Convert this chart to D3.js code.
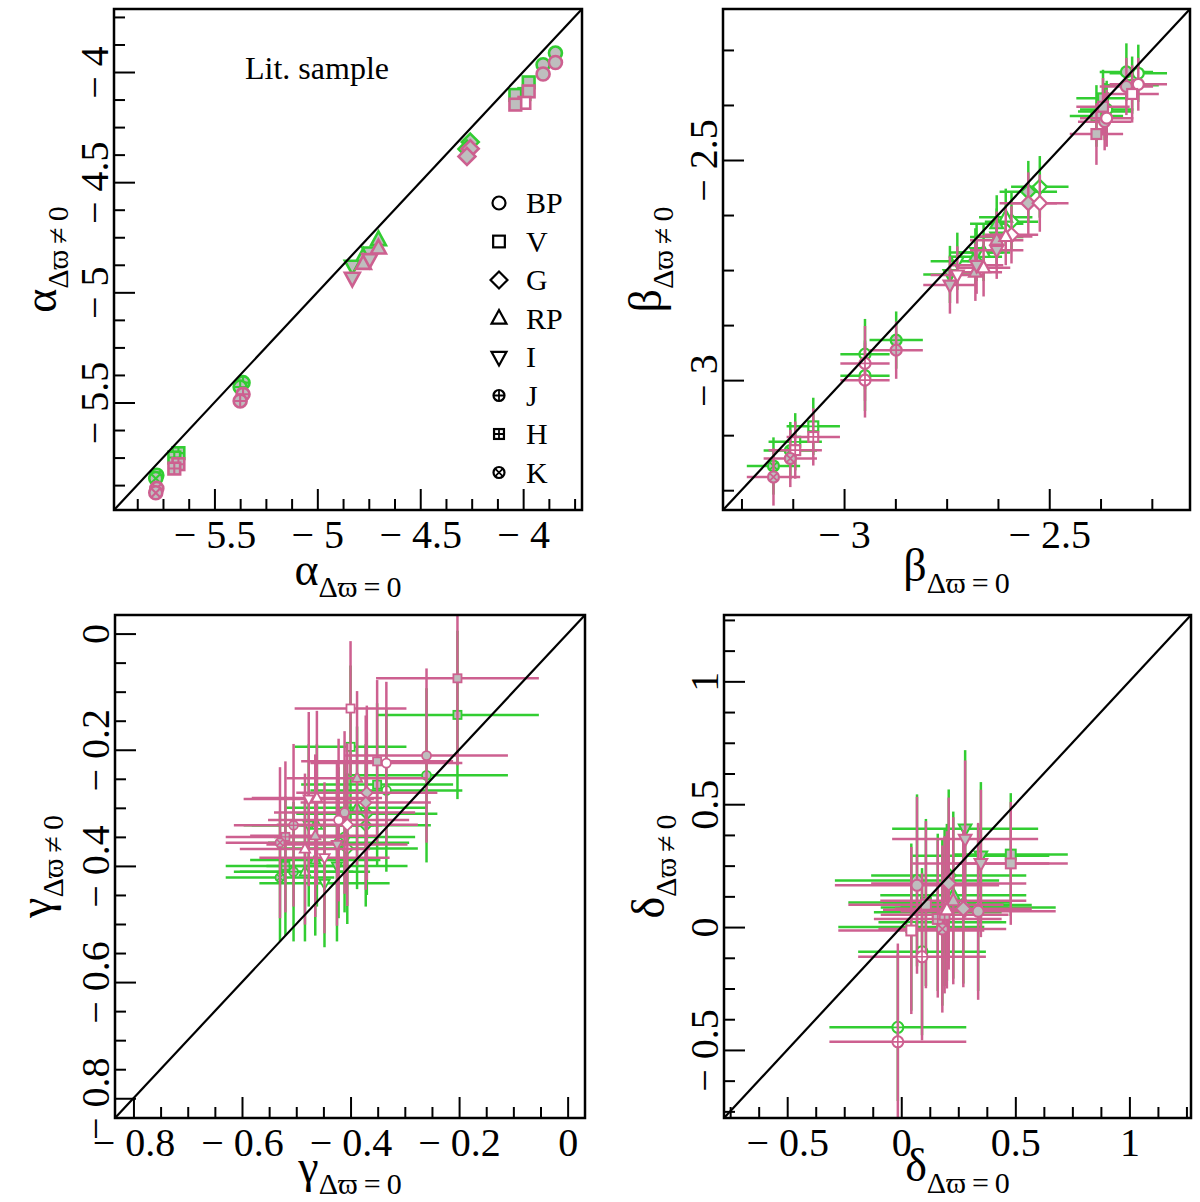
<!DOCTYPE html>
<html><head><meta charset="utf-8">
<script src="https://cdn.jsdelivr.net/npm/d3@7"></script>
<style>body{margin:0;background:#fff}svg{display:block}</style>
</head><body>
<svg id="chart" width="1200" height="1202"></svg>
<script>
// ---------------- DATA ----------------
const bands = ["BP","V","G","RP","I","J","H","K"];
const seriesColors = {green:"#32CD32", pink:"#CD6090"};
const fillColors = {g:"#BEBEBE", w:"#FFFFFF"};
// rows: [band, fill, x, xErr, yGreen, yErrGreen, yPink, yErrPink]
const alphaDomain = [-5.988,-3.714];
const alphaTicks = [-5.5,-5,-4.5,-4];
const alphaMinorStep = 0.125;
const alphaPts = [
 ["BP","g",-3.843,0.008,-3.914,0.008,-3.957,0.008],
 ["BP","g",-3.903,0.008,-3.967,0.008,-4.009,0.008],
 ["V","g",-3.973,0.008,-4.047,0.008,-4.088,0.008],
 ["V","w",-3.994,0.008,-4.100,0.008,-4.140,0.008],
 ["V","g",-4.038,0.008,-4.104,0.008,-4.148,0.008],
 ["G","g",-4.257,0.008,-4.318,0.008,-4.348,0.008],
 ["G","g",-4.273,0.008,-4.350,0.008,-4.383,0.008],
 ["RP","g",-4.703,0.008,-4.762,0.008,-4.800,0.008],
 ["RP","g",-4.776,0.008,-4.838,0.008,-4.870,0.008],
 ["I","g",-4.745,0.008,-4.820,0.008,-4.850,0.008],
 ["I","g",-4.830,0.008,-4.880,0.008,-4.935,0.008],
 ["J","g",-5.361,0.008,-5.410,0.008,-5.463,0.008],
 ["J","g",-5.375,0.008,-5.430,0.008,-5.493,0.008],
 ["H","g",-5.675,0.008,-5.730,0.008,-5.780,0.008],
 ["H","g",-5.695,0.008,-5.750,0.008,-5.800,0.008],
 ["K","g",-5.780,0.008,-5.830,0.008,-5.890,0.008],
 ["K","g",-5.785,0.008,-5.845,0.008,-5.910,0.008]
];
const betaDomain = [-3.295,-2.157];
const betaTicks = [-3,-2.5];
const betaMinorStep = 0.125;
const betaPts = [
 ["BP","g",-2.312,0.065,-2.300,0.065,-2.333,0.065],
 ["BP","w",-2.283,0.070,-2.303,0.065,-2.328,0.060],
 ["BP","g",-2.365,0.065,-2.390,0.065,-2.413,0.065],
 ["BP","w",-2.360,0.065,-2.385,0.065,-2.405,0.065],
 ["V","g",-2.369,0.065,-2.360,0.065,-2.379,0.065],
 ["V","g",-2.385,0.065,-2.400,0.070,-2.441,0.070],
 ["V","w",-2.298,0.065,-2.330,0.065,-2.350,0.065],
 ["G","g",-2.551,0.070,-2.572,0.070,-2.598,0.070],
 ["G","w",-2.523,0.070,-2.561,0.070,-2.598,0.065],
 ["G","w",-2.592,0.065,-2.640,0.065,-2.670,0.065],
 ["RP","g",-2.628,0.065,-2.645,0.065,-2.682,0.065],
 ["RP","w",-2.606,0.065,-2.630,0.065,-2.674,0.065],
 ["RP","g",-2.680,0.065,-2.720,0.065,-2.755,0.065],
 ["RP","w",-2.660,0.065,-2.710,0.065,-2.745,0.065],
 ["I","g",-2.628,0.065,-2.675,0.065,-2.705,0.065],
 ["I","g",-2.677,0.065,-2.710,0.065,-2.739,0.065],
 ["I","g",-2.742,0.065,-2.760,0.065,-2.784,0.065],
 ["I","w",-2.724,0.065,-2.730,0.065,-2.761,0.065],
 ["J","w",-2.949,0.060,-2.941,0.080,-2.962,0.085],
 ["J","w",-2.949,0.060,-2.990,0.080,-3.000,0.085],
 ["J","g",-2.873,0.065,-2.909,0.065,-2.932,0.065],
 ["H","w",-3.075,0.065,-3.105,0.065,-3.129,0.065],
 ["H","w",-3.119,0.065,-3.140,0.065,-3.159,0.065],
 ["K","g",-3.172,0.065,-3.195,0.065,-3.220,0.065],
 ["K","g",-3.131,0.065,-3.160,0.065,-3.178,0.065]
];
const gammaDomain = [-0.834,0.032];
const gammaTicks = [-0.8,-0.6,-0.4,-0.2,0];
const gammaMinorStep = 0.05;
const gammaPts = [
 ["BP","g",-0.260,0.150,-0.244,0.150,-0.210,0.150],
 ["BP","w",-0.334,0.140,-0.270,0.140,-0.223,0.140],
 ["BP","g",-0.411,0.130,-0.350,0.130,-0.308,0.140],
 ["BP","w",-0.422,0.130,-0.360,0.130,-0.321,0.140],
 ["V","g",-0.203,0.150,-0.140,0.145,-0.077,0.150],
 ["V","w",-0.400,0.103,-0.195,0.140,-0.129,0.116],
 ["V","g",-0.351,0.140,-0.260,0.140,-0.220,0.140],
 ["G","g",-0.370,0.130,-0.310,0.140,-0.274,0.150],
 ["G","g",-0.372,0.120,-0.330,0.140,-0.291,0.150],
 ["G","w",-0.406,0.130,-0.370,0.130,-0.329,0.140],
 ["RP","g",-0.388,0.130,-0.300,0.140,-0.249,0.150],
 ["RP","w",-0.462,0.120,-0.330,0.140,-0.283,0.150],
 ["RP","g",-0.465,0.120,-0.390,0.130,-0.348,0.140],
 ["RP","w",-0.484,0.120,-0.410,0.120,-0.371,0.130],
 ["I","w",-0.477,0.120,-0.330,0.140,-0.285,0.150],
 ["I","g",-0.425,0.130,-0.400,0.130,-0.363,0.140],
 ["I","w",-0.448,0.120,-0.430,0.110,-0.386,0.130],
 ["J","g",-0.505,0.110,-0.410,0.120,-0.330,0.140],
 ["H","g",-0.520,0.110,-0.400,0.120,-0.350,0.130],
 ["K","g",-0.530,0.100,-0.420,0.110,-0.360,0.130]
];
const deltaDomain = [-0.777,1.27];
const deltaTicks = [-0.5,0,0.5,1];
const deltaMinorStep = 0.125;
const deltaPts = [
 ["I","g",0.280,0.32,0.400,0.32,0.358,0.32],
 ["I","g",0.349,0.30,0.290,0.30,0.259,0.30],
 ["V","g",0.480,0.25,0.295,0.25,0.259,0.25],
 ["BP","g",0.069,0.36,0.190,0.35,0.170,0.36],
 ["G","g",0.208,0.34,0.210,0.35,0.177,0.35],
 ["RP","g",0.228,0.32,0.130,0.34,0.107,0.34],
 ["V","g",0.108,0.34,0.100,0.34,0.091,0.34],
 ["G","g",0.272,0.30,0.090,0.32,0.075,0.32],
 ["BP","g",0.337,0.34,0.080,0.34,0.064,0.36],
 ["V","w",0.044,0.32,0.000,0.34,-0.014,0.34],
 ["J","w",0.091,0.28,-0.100,0.34,-0.121,0.34],
 ["J","w",-0.015,0.30,-0.408,0.30,-0.467,0.40],
 ["H","g",0.160,0.28,0.060,0.32,0.033,0.32],
 ["K","g",0.180,0.28,0.020,0.34,-0.008,0.34],
 ["H","g",0.190,0.28,0.080,0.32,0.050,0.32],
 ["RP","w",0.200,0.28,0.100,0.32,0.070,0.32]
];

// ---------------- DRAWING ----------------
const svg = d3.select("#chart");
const FONT = "'Liberation Serif','Times New Roman',serif";
const minus = "\u2212";
const fmt = d => d < 0 ? minus + " " + Math.abs(d) : String(d);

function symbolShape(g, band, r, stroke, fill, sw){
  const s = g.append("g");
  const circ = () => s.append("circle").attr("r", r);
  const a = r*0.9;
  let shape, extra = null;
  switch(band){
    case "BP": shape = circ(); break;
    case "J": shape = circ(); extra = `M${-r},0H${r}M0,${-r}V${r}`; break;
    case "K": shape = circ(); {const q=r*0.707; extra = `M${-q},${-q}L${q},${q}M${-q},${q}L${q},${-q}`;} break;
    case "V": shape = s.append("rect").attr("x",-a).attr("y",-a).attr("width",2*a).attr("height",2*a); break;
    case "H": shape = s.append("rect").attr("x",-a).attr("y",-a).attr("width",2*a).attr("height",2*a); extra = `M${-a},0H${a}M0,${-a}V${a}`; break;
    case "G": shape = s.append("path").attr("d",`M0,${-1.3*r}L${1.3*r},0L0,${1.3*r}L${-1.3*r},0Z`); break;
    case "RP": shape = s.append("path").attr("d",`M0,${-1.3*r}L${1.15*r},${0.8*r}L${-1.15*r},${0.8*r}Z`); break;
    case "I": shape = s.append("path").attr("d",`M0,${1.3*r}L${1.15*r},${-0.8*r}L${-1.15*r},${-0.8*r}Z`); break;
  }
  shape.attr("fill", fill).attr("stroke", stroke).attr("stroke-width", sw);
  if (extra) s.append("path").attr("d", extra).attr("fill","none").attr("stroke", stroke).attr("stroke-width", sw*0.8);
  return s;
}

function drawPanel(id, box, domain, majors, minorStep, pts, letter, opts){
  const x = d3.scaleLinear().domain(domain).range([box.l, box.r]);
  const y = d3.scaleLinear().domain(domain).range([box.b, box.t]);
  const g = svg.append("g");
  const clipId = "clip"+id;
  svg.append("clipPath").attr("id", clipId).append("rect")
     .attr("x", box.l).attr("y", box.t).attr("width", box.r-box.l).attr("height", box.b-box.t);

  const start = Math.ceil(domain[0]/minorStep)*minorStep;
  const minors = d3.range(start, domain[1], minorStep).filter(v => !majors.some(m => Math.abs(m-v) < 1e-9));

  const axB1 = g.append("g").attr("transform",`translate(0,${box.b})`)
    .call(d3.axisBottom(x).tickValues(minors).tickSize(-11).tickFormat(""));
  const axB2 = g.append("g").attr("transform",`translate(0,${box.b})`)
    .call(d3.axisBottom(x).tickValues(majors).tickSize(-21).tickFormat(fmt));
  const axL1 = g.append("g").attr("transform",`translate(${box.l},0)`)
    .call(d3.axisLeft(y).tickValues(minors).tickSize(-11).tickFormat(""));
  const axL2 = g.append("g").attr("transform",`translate(${box.l},0)`)
    .call(d3.axisLeft(y).tickValues(majors).tickSize(-21).tickFormat(fmt));
  [axB1,axB2,axL1,axL2].forEach(a => {
    a.select(".domain").remove();
    a.selectAll(".tick line").attr("stroke","#000").attr("stroke-width",2);
  });
  axB2.selectAll("text").attr("y",38).attr("dy",0).attr("fill","#000")
    .style("font-family",FONT).style("font-size","40px");
  axL2.selectAll("text").attr("x",0).attr("dy",0).attr("text-anchor","middle")
    .attr("transform","translate(-6,0) rotate(-90)").attr("fill","#000")
    .style("font-family",FONT).style("font-size","40px");

  const layer = g.append("g").attr("clip-path",`url(#${clipId})`);
  const series = [["green",4,5],["pink",6,7]];
  series.forEach(([col, yi, ei]) => {
    const c = seriesColors[col];
    const eb = layer.append("g");
    pts.forEach(p => {
      eb.append("line").attr("x1",x(p[2]-p[3])).attr("x2",x(p[2]+p[3]))
        .attr("y1",y(p[yi])).attr("y2",y(p[yi])).attr("stroke",c).attr("stroke-width",2.5);
      eb.append("line").attr("x1",x(p[2])).attr("x2",x(p[2]))
        .attr("y1",y(p[yi]-p[ei])).attr("y2",y(p[yi]+p[ei])).attr("stroke",c).attr("stroke-width",2.5);
    });
    const mk = layer.append("g");
    pts.forEach(p => {
      const s = symbolShape(mk, p[0], opts.r, c, fillColors[p[1]], opts.sw);
      s.attr("transform",`translate(${x(p[2])},${y(p[yi])})`);
    });
  });

  g.append("line").attr("x1",x(domain[0])).attr("y1",y(domain[0]))
    .attr("x2",x(domain[1])).attr("y2",y(domain[1]))
    .attr("stroke","#000").attr("stroke-width",2.2);

  g.append("rect").attr("x",box.l).attr("y",box.t).attr("width",box.r-box.l).attr("height",box.b-box.t)
    .attr("fill","none").attr("stroke","#000").attr("stroke-width",2.5);

  const cx = (box.l+box.r)/2, cy = (box.t+box.b)/2;
  const xt = g.append("text").attr("x",cx).attr("y",box.b+opts.xTitle).attr("text-anchor","middle")
    .style("font-family",FONT).attr("fill","#000");
  xt.append("tspan").style("font-size","46px").text(letter);
  xt.append("tspan").style("font-size","30px").attr("dy",12).text("\u0394\u03D6\u2009=\u20090");
  const yt = g.append("text").attr("transform",`translate(${box.l-opts.yTitle},${cy}) rotate(-90)`)
    .attr("text-anchor","middle").style("font-family",FONT).attr("fill","#000");
  yt.append("tspan").style("font-size","46px").text(letter);
  yt.append("tspan").style("font-size","30px").attr("dy",12).text("\u0394\u03D6\u2009\u2260\u20090");
  return {x,y,g};
}

drawPanel(1,{l:114,r:582,t:9,b:510}, alphaDomain, alphaTicks, alphaMinorStep, alphaPts, "\u03B1", {r:6.5, sw:2.6, xTitle:75, yTitle:58});
drawPanel(2,{l:723,r:1190,t:9,b:510}, betaDomain, betaTicks, betaMinorStep, betaPts, "\u03B2", {r:5.5, sw:2.2, xTitle:71, yTitle:62});
drawPanel(3,{l:115,r:585,t:615,b:1118}, gammaDomain, gammaTicks, gammaMinorStep, gammaPts, "\u03B3", {r:4.5, sw:1.8, xTitle:64, yTitle:64});
drawPanel(4,{l:724,r:1191,t:615,b:1118}, deltaDomain, deltaTicks, deltaMinorStep, deltaPts, "\u03B4", {r:5.5, sw:2, xTitle:63, yTitle:60});

const leg = svg.append("g");
bands.forEach((b,i) => {
  const yy = 203 + i*38.5;
  const s = symbolShape(leg, b, ["J","H","K"].includes(b)?5.5:6.5, "#000", "#fff", 2.2);
  s.attr("transform",`translate(499,${yy})`);
  leg.append("text").attr("x",526).attr("y",yy+10).text(b)
    .style("font-family",FONT).style("font-size","30px").attr("fill","#000");
});
svg.append("text").attr("x",317).attr("y",79).attr("text-anchor","middle")
  .style("font-family",FONT).style("font-size","32px").attr("fill","#000").text("Lit. sample");
</script>
</body></html>
